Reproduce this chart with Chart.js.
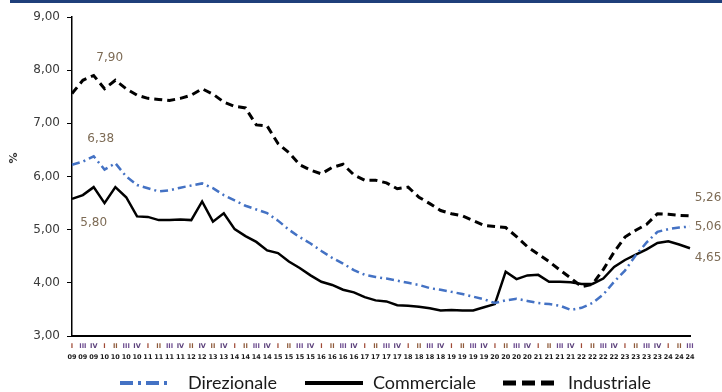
<!DOCTYPE html>
<html><head><meta charset="utf-8">
<script src="https://cdn.jsdelivr.net/npm/chart.js@4/dist/chart.umd.min.js"></script>
<style>html,body{margin:0;padding:0;background:#fff}#wrap{width:722px;height:392px;position:relative}</style>
</head><body><div id="wrap"><canvas id="c"></canvas></div>
<script>
const quarters = ['I','III','IV','I','II','III','IV','I','II','III','IV','II','IV','II','IV',
  'I','II','III','IV','I','II','III','IV','I','II','III','IV','I','II','III','IV','I','II','III','IV',
  'I','II','III','IV','I','II','III','IV','I','II','III','IV','I','II','III','IV','I','II','III','IV',
  'I','II','III'];
const years = ['09','09','09','10','10','10','10','11','11','11','11','12','12','13','13',
  '14','14','14','14','15','15','15','15','16','16','16','16','17','17','17','17','18','18','18','18',
  '19','19','19','19','20','20','20','20','21','21','21','21','22','22','22','22','23','23','23','23',
  '24','24','24'];
const direzionale = [6.22,6.28,6.38,6.13,6.25,6.00,5.84,5.78,5.72,5.74,5.79,5.83,5.87,5.78,5.65,
  5.55,5.45,5.38,5.31,5.17,5.00,4.86,4.74,4.60,4.47,4.36,4.24,4.15,4.11,4.08,4.04,4.00,3.96,3.90,3.87,
  3.83,3.79,3.74,3.69,3.62,3.67,3.70,3.66,3.62,3.60,3.57,3.49,3.53,3.62,3.78,4.02,4.23,4.52,4.76,4.96,
  5.01,5.04,5.06];
const commerciale = [5.58,5.65,5.80,5.50,5.80,5.61,5.25,5.24,5.18,5.18,5.19,5.18,5.53,5.15,5.31,
  5.01,4.88,4.77,4.61,4.56,4.40,4.28,4.14,4.02,3.96,3.87,3.82,3.73,3.67,3.65,3.58,3.57,3.55,3.52,3.48,
  3.49,3.48,3.48,3.54,3.60,4.21,4.07,4.14,4.15,4.02,4.02,4.01,3.98,3.98,4.08,4.30,4.43,4.53,4.63,4.75,
  4.78,4.72,4.65];
const industriale = [7.56,7.81,7.90,7.65,7.81,7.65,7.53,7.47,7.45,7.43,7.47,7.53,7.65,7.55,7.40,
  7.32,7.29,6.97,6.95,6.62,6.45,6.22,6.12,6.05,6.17,6.23,6.03,5.93,5.93,5.88,5.77,5.80,5.61,5.49,5.36,
  5.30,5.26,5.17,5.08,5.06,5.04,4.87,4.68,4.54,4.40,4.24,4.09,3.93,3.97,4.25,4.58,4.86,4.99,5.10,5.30,
  5.29,5.27,5.26];
const seriesNames = ['Direzionale','Commerciale','Industriale'];
const yMin = 3, yMax = 9, yStep = 1;

const fmt = v => v.toFixed(2).replace('.', ',');
const quarterColor = {'I':'#A04A35','II':'#8E5A3A','III':'#6B4A8E','IV':'#5A3F7A'};

const labelSpecs = [
  {ds:2, i:2, dx:16, dy:-17.5},
  {ds:0, i:2, dx:7, dy:-17},
  {ds:1, i:2, dx:0, dy:36},
  {ds:2, i:57, dx:18, dy:-18},
  {ds:0, i:57, dx:18, dy:0},
  {ds:1, i:57, dx:18, dy:10}
];
const legendSpecs = [
  {x0:120, x1:172, tx:188, width:4, dash:[13,5,3,5]},
  {x0:305, x1:363, tx:373, width:4, dash:[]},
  {x0:503, x1:556, tx:568, width:5, dash:[13,6]}
];

const decor = {
  id:'decor',
  beforeDraw(chart){
    const ctx = chart.ctx; ctx.save();
    ctx.fillStyle = '#fff'; ctx.fillRect(0,0,chart.width,chart.height);
    ctx.fillStyle = '#1F3F7A'; ctx.fillRect(10,0,chart.width-10,3);
    ctx.restore();
  },
  afterDraw(chart){
    const ctx = chart.ctx, xs = chart.scales.x, ys = chart.scales.y;
    ctx.save();
    ctx.font = '12px "DejaVu Sans"'; ctx.fillStyle = '#7d6b55';
    ctx.textAlign = 'center'; ctx.textBaseline = 'middle';
    labelSpecs.forEach(s => {
      const v = chart.data.datasets[s.ds].data[s.i];
      ctx.fillText(fmt(v), xs.getPixelForValue(s.i) + s.dx, ys.getPixelForValue(v) + s.dy);
    });
    ctx.save();
    ctx.translate(14,158); ctx.rotate(-Math.PI/2);
    ctx.font = 'bold 11px "DejaVu Sans"'; ctx.fillStyle = '#333';
    ctx.fillText('%',0,0);
    ctx.restore();
    chart.data.datasets.forEach((d, k) => {
      const L = legendSpecs[k];
      ctx.save();
      ctx.strokeStyle = d.borderColor; ctx.lineWidth = L.width; ctx.setLineDash(L.dash);
      ctx.beginPath(); ctx.moveTo(L.x0, 383); ctx.lineTo(L.x1, 383); ctx.stroke();
      ctx.restore();
      ctx.font = '18px Lato'; ctx.fillStyle = '#1a1a1a'; ctx.textAlign = 'left';
      ctx.fillText(d.label, L.tx, 383);
    });
    ctx.restore();
  }
};

new Chart(document.getElementById('c'), {
  type:'line',
  data:{
    labels: quarters,
    datasets:[
      {label:seriesNames[0], data:direzionale, borderColor:'#4472C4', borderWidth:2.5, borderDash:[8,4,2,4], pointRadius:0, tension:0, fill:false},
      {label:seriesNames[1], data:commerciale, borderColor:'#000000', borderWidth:2.5, pointRadius:0, tension:0, fill:false},
      {label:seriesNames[2], data:industriale, borderColor:'#000000', borderWidth:3, borderDash:[8,5], pointRadius:0, tension:0, fill:false}
    ]
  },
  options:{
    responsive:true, maintainAspectRatio:false, animation:false,
    layout:{padding:{left:0,right:32,top:17,bottom:30}},
    plugins:{legend:{display:false}, tooltip:{enabled:false}},
    scales:{
      x:{type:'category', labels:quarters, offset:false, weight:0,
        grid:{display:false, drawTicks:false},
        border:{display:true, color:'#000', width:2},
        ticks:{autoSkip:false, maxRotation:0, minRotation:0, padding:6,
          font:{family:'DejaVu Sans', size:6.5, weight:'bold'},
          color: c => quarterColor[quarters[c.index]] || '#555'},
        afterFit: s => { s.height = 12; }
      },
      x2:{type:'category', labels:years, position:'bottom', offset:false, weight:1,
        grid:{display:false, drawTicks:false}, border:{display:false},
        ticks:{autoSkip:false, maxRotation:0, minRotation:0, padding:5,
          font:{family:'DejaVu Sans', size:6.5, weight:'bold'}, color:'#1a1a1a'},
        afterFit: s => { s.height = 14; }
      },
      y:{min:yMin, max:yMax,
        grid:{display:true, drawOnChartArea:false, drawTicks:true, tickLength:5, color:'#000'},
        border:{display:true, color:'#000', width:1.5},
        ticks:{stepSize:yStep, padding:7, color:'#3a3a3a', font:{family:'DejaVu Sans', size:12},
          callback: v => fmt(v)},
        afterFit: s => { s.width = 72; }
      }
    }
  },
  plugins:[decor]
});
</script></body></html>
